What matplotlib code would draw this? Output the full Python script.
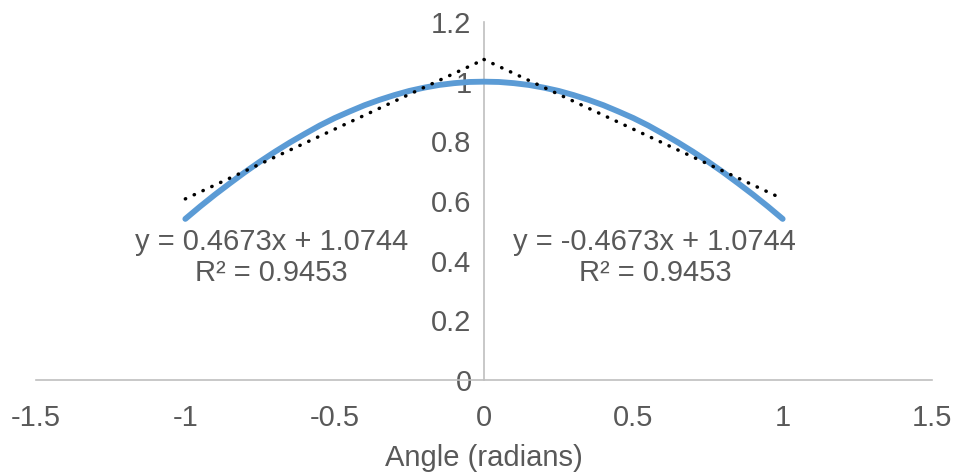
import matplotlib
matplotlib.use("Agg")
import matplotlib.pyplot as plt
import numpy as np

plt.rcParams['font.family'] = ['Liberation Sans', 'DejaVu Sans']

# Data
angle = [-1.00, -0.95, -0.90, -0.85, -0.80, -0.75, -0.70, -0.65, -0.60, -0.55,
         -0.50, -0.45, -0.40, -0.35, -0.30, -0.25, -0.20, -0.15, -0.10, -0.05,
         0.00, 0.05, 0.10, 0.15, 0.20, 0.25, 0.30, 0.35, 0.40, 0.45,
         0.50, 0.55, 0.60, 0.65, 0.70, 0.75, 0.80, 0.85, 0.90, 0.95, 1.00]
value = [0.540, 0.582, 0.622, 0.660, 0.697, 0.732, 0.765, 0.796, 0.825, 0.853,
         0.878, 0.900, 0.921, 0.939, 0.955, 0.969, 0.980, 0.989, 0.995, 0.999,
         1.000, 0.999, 0.995, 0.989, 0.980, 0.969, 0.955, 0.939, 0.921, 0.900,
         0.878, 0.853, 0.825, 0.796, 0.765, 0.732, 0.697, 0.660, 0.622, 0.582, 0.540]

left_slope, left_intercept, left_r2 = 0.4673, 1.0744, 0.9453
right_slope, right_intercept, right_r2 = -0.4673, 1.0744, 0.9453
left_range = [-1.0, 0.0]
right_range = [0.0, 1.0]

x_ticks = [-1.5, -1, -0.5, 0, 0.5, 1, 1.5]
x_tick_labels = ["-1.5", "-1", "-0.5", "0", "0.5", "1", "1.5"]
y_ticks = [0, 0.2, 0.4, 0.6, 0.8, 1.0, 1.2]
y_tick_labels = ["0", "0.2", "0.4", "0.6", "0.8", "1", "1.2"]
x_label = "Angle (radians)"

text_color = "#595959"
axis_color = "#BFBFBF"
blue = "#5B9BD5"
fs = 21

fig = plt.figure(figsize=(9.55, 4.75), dpi=100)
ax = fig.add_axes([36/955, 95/475, 896/955, 358/475])

ax.plot(angle, value, color=blue, lw=4.2, solid_capstyle='round',
        solid_joinstyle='round', zorder=3)

xl = np.array(left_range)
ax.plot(xl, left_slope * xl + left_intercept, color='black', lw=2.5,
        linestyle=(0, (0.1, 2.7)), dash_capstyle='round', zorder=4)
xr = np.array(right_range)
ax.plot(xr, right_slope * xr + right_intercept, color='black', lw=2.5,
        linestyle=(0, (0.1, 2.7)), dash_capstyle='round', zorder=4)

ax.set_xlim(-1.5, 1.5)
ax.set_ylim(0, 1.2)
ax.set_xticks(x_ticks)
ax.set_xticklabels(x_tick_labels)
ax.set_yticks(y_ticks)
ax.set_yticklabels(y_tick_labels)

for s in ['top', 'right']:
    ax.spines[s].set_visible(False)
ax.spines['left'].set_position(('data', 0))
ax.spines['left'].set_color(axis_color)
ax.spines['bottom'].set_color(axis_color)
ax.spines['left'].set_linewidth(1.2)
ax.spines['bottom'].set_linewidth(1.2)
ax.spines['left'].set_zorder(1)

ax.tick_params(axis='both', length=0, labelsize=fs, labelcolor=text_color)
ax.tick_params(axis='x', pad=17)
ax.tick_params(axis='y', pad=9)

ax.set_xlabel(x_label, fontsize=fs, color=text_color, labelpad=9)

ax.text(-0.712, 0.41, f"y = {left_slope:.4f}x + {left_intercept:.4f}\nR² = {left_r2:.4f}",
        ha='center', va='center', fontsize=fs, color=text_color,
        linespacing=1.15, zorder=5)
ax.text(0.572, 0.41, f"y = {right_slope:.4f}x + {right_intercept:.4f}\nR² = {right_r2:.4f}",
        ha='center', va='center', fontsize=fs, color=text_color,
        linespacing=1.15, zorder=5)

fig.savefig("out.png", dpi=100)
